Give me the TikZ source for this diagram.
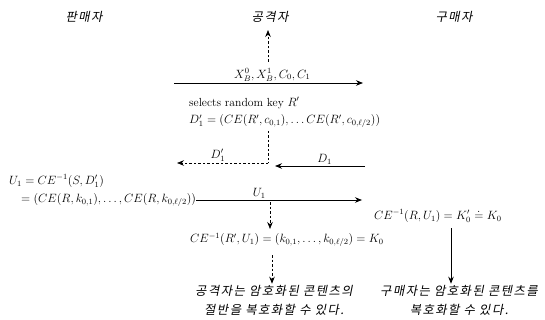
\documentclass[tikz,border=0pt]{standalone}
\usepackage{fontspec}
\newfontfamily\krfont[FakeSlant=0.2,LetterSpace=12]{Noto Sans CJK KR}
\usetikzlibrary{arrows.meta}
\begin{document}
\begin{tikzpicture}[x=1pt,y=-1pt,
  font=\fontsize{11.7}{13}\selectfont,
  kr/.style={font=\krfont\fontsize{12.3}{19}\selectfont, inner sep=1pt},
  lab/.style={inner sep=1.5pt},
  sol/.style={line width=0.8pt, -{Stealth[length=7pt,width=5.5pt]}},
  dsh/.style={line width=0.7pt, dash pattern=on 2.5pt off 2pt, -{Stealth[length=7pt,width=5.5pt]}},
  dln/.style={line width=0.7pt, dash pattern=on 2.5pt off 2pt}]
\useasboundingbox (0,0) rectangle (545,320);
% headers
\node[kr] (seller) at (84,17) {판매자};
\node[kr] (att) at (270,17) {공격자};
\node[kr] (buyer) at (454,17) {구매자};
% top arrow
\coordinate (a1s) at (174,83);
\coordinate (a1e) at (363,83);
\draw[sol] (a1s) -- node[above, lab, pos=0.52] (l1) {$X_B^0, X_B^1, C_0, C_1$} (a1e);
\coordinate (up0) at (268,62);
\coordinate (up1) at (268,30);
\draw[dsh] (up0) -- (up1);
% attacker selects key
\node[anchor=west, inner sep=0pt] (sel) at (189,103) {selects random key $R'$};
\node[anchor=west, inner sep=0pt] (d1p) at (189,121) {$D_1' = (CE(R',c_{0,1}),\ldots CE(R',c_{0,\ell/2}))$};
\coordinate (v1) at (268,131);
\coordinate (v2) at (268,163);
\coordinate (dl) at (177,163);
\draw[dln] (v1) -- (v2);
\draw[dsh] (v2) -- node[above, lab, pos=0.55] (ld1p) {$D_1'$} (dl);
% D1 from buyer
\coordinate (d1s) at (365,166);
\coordinate (d1e) at (275,166);
\draw[sol] (d1s) -- node[above, lab, pos=0.45] (ld1) {$D_1$} (d1e);
% seller computes U1
\node[anchor=west, inner sep=0pt] (u1) at (9,181) {$U_1 = CE^{-1}(S, D_1')$};
\node[anchor=west, inner sep=0pt] (u1b) at (21,200) {$= (CE(R,k_{0,1}),\ldots,CE(R,k_{0,\ell/2}))$};
\coordinate (u1e) at (362,200);
\draw[sol] (u1b.east) -- node[above, lab, pos=0.38] (lu1) {$U_1$} (u1e);
% buyer result
\node[anchor=west, inner sep=0pt] (buyk) at (374,216) {$CE^{-1}(R,U_1) = K_0' \doteq K_0$};
% attacker interception
\coordinate (v3) at (270,202);
\coordinate (v4) at (270,229);
\draw[dsh] (v3) -- (v4);
\node[anchor=west, inner sep=0pt] (attk) at (190,240) {$CE^{-1}(R',U_1) = (k_{0,1},\ldots,k_{0,\ell/2}) = K_0$};
% conclusions
\node[kr, align=center] (attres) at (274,300) {공격자는 암호화된 콘텐츠의\\절반을 복호화할 수 있다.};
\node[kr, align=center] (buyres) at (459,300) {구매자는 암호화된 콘텐츠를\\복호화할 수 있다.};
\coordinate (v5) at (272,255);
\draw[dsh] (v5) -- (v5 |- attres.north);
\coordinate (v6) at (451,228);
\draw[sol] (v6) -- (v6 |- buyres.north);
\end{tikzpicture}
\end{document}
